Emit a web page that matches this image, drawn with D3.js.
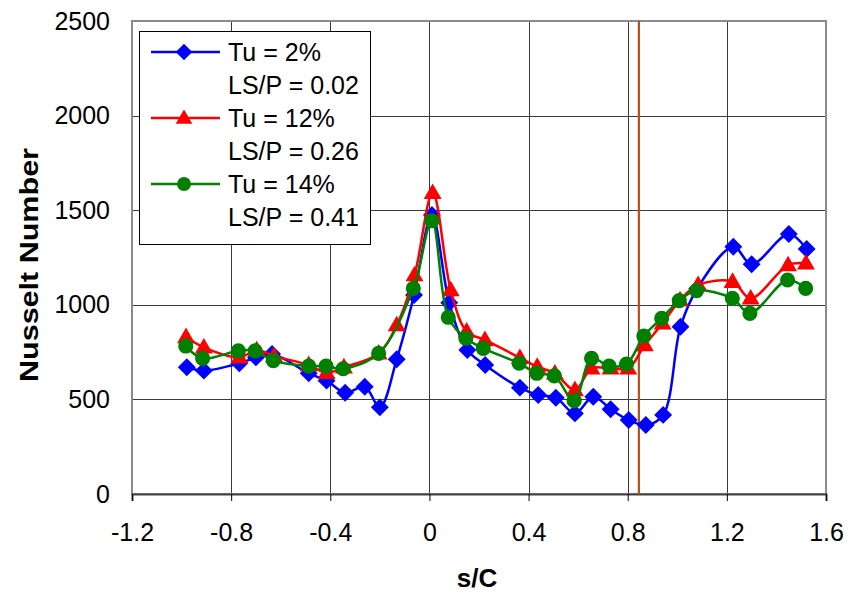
<html>
  <head>
    <script src="https://cdn.jsdelivr.net/npm/d3@7/dist/d3.min.js" charset="UTF-8"></script>
    <style>
      body { margin: 0; background: #fff; }
      text { font-family: "Liberation Sans", Arial, sans-serif; fill: #000; }
    </style>
  </head>
  <body>
    <svg width="849" height="594"></svg>

    <script type="text/javascript">
      // Tu = 2%, LS/P = 0.02
      var sc_tu2 = [-0.979, -0.910, -0.767, -0.700, -0.635, -0.487, -0.415, -0.340, -0.261, -0.200, -0.132, -0.062,
                    0.010, 0.080, 0.153, 0.225, 0.365, 0.439, 0.510, 0.587, 0.661, 0.731, 0.804, 0.873, 0.943,
                    1.013, 1.080, 1.226, 1.300, 1.450, 1.522];
      var nu_tu2 = [670, 652, 691, 722, 740, 638, 599, 535, 567, 458, 712, 1052,
                    1475, 1011, 761, 682, 562, 523, 509, 426, 514, 448, 391, 365, 418,
                    884, 1085, 1307, 1214, 1374, 1295];

      // Tu = 12%, LS/P = 0.26
      var sc_tu12 = [-0.982, -0.910, -0.767, -0.697, -0.627, -0.487, -0.415, -0.345, -0.205, -0.132, -0.060,
                     0.013, 0.086, 0.150, 0.224, 0.365, 0.435, 0.506, 0.587, 0.654, 0.731, 0.802, 0.869, 0.941,
                     1.011, 1.084, 1.223, 1.296, 1.447, 1.519];
      var nu_tu12 = [830, 775, 722, 761, 729, 682, 641, 670, 743, 893, 1157,
                     1592, 1078, 860, 814, 720, 673, 638, 550, 664, 664, 664, 787, 902,
                     1025, 1105, 1122, 1034, 1210, 1219];

      // Tu = 14%, LS/P = 0.41
      var sc_tu14 = [-0.983, -0.915, -0.771, -0.703, -0.630, -0.487, -0.417, -0.348, -0.205, -0.065,
                     0.010, 0.076, 0.147, 0.217, 0.362, 0.433, 0.504, 0.584, 0.654, 0.725, 0.795, 0.865, 0.937,
                     1.008, 1.078, 1.222, 1.293, 1.445, 1.518];
      var nu_tu14 = [782, 717, 757, 757, 705, 676, 676, 662, 743, 1087,
                     1444, 934, 823, 770, 691, 638, 624, 493, 717, 676, 687, 835, 929,
                     1022, 1075, 1034, 955, 1131, 1087];

      var xTicks = [-1.2, -0.8, -0.4, 0, 0.4, 0.8, 1.2, 1.6];
      var yTicks = [0, 500, 1000, 1500, 2000, 2500];
      var markerLine = 0.845;   // vertical reference line

      var legendLabels = [["Tu = 2%", "LS/P = 0.02"], ["Tu = 12%", "LS/P = 0.26"], ["Tu = 14%", "LS/P = 0.41"]];

      // diamonds are squares turned 45 degrees
      var series = [
        { xs: sc_tu2, ys: nu_tu2, color: "#0000ff", shape: d3.symbolSquare, size: 160, rot: 45, dy: 0 },
        { xs: sc_tu12, ys: nu_tu12, color: "#ff0000", shape: d3.symbolTriangle, size: 140, rot: 0, dy: 1 },
        { xs: sc_tu14, ys: nu_tu14, color: "#008000", shape: d3.symbolCircle, size: 180, rot: 0, dy: 0 }
      ];

      var svg = d3.select("svg");
      var plotL = 132, plotR = 826, plotT = 21, plotB = 494;

      var x = d3.scaleLinear().domain([-1.2, 1.6]).range([plotL, plotR]);
      var y = d3.scaleLinear().domain([0, 2500]).range([plotB, plotT]);

      // gridlines
      svg.append("g").selectAll("line").data(yTicks.slice(1, -1)).enter().append("line")
        .attr("x1", plotL).attr("x2", plotR)
        .attr("y1", function(d) { return Math.round(y(d)) + 0.5; }).attr("y2", function(d) { return Math.round(y(d)) + 0.5; })
        .style("stroke", "#3a3a3a").style("stroke-width", 1);
      svg.append("g").selectAll("line").data(xTicks.slice(1, -1)).enter().append("line")
        .attr("y1", plotT).attr("y2", plotB)
        .attr("x1", function(d) { return Math.round(x(d)) + 0.5; }).attr("x2", function(d) { return Math.round(x(d)) + 0.5; })
        .style("stroke", "#3a3a3a").style("stroke-width", 1);

      // plot border
      svg.append("rect")
        .attr("x", plotL).attr("y", plotT).attr("width", plotR - plotL).attr("height", plotB - plotT)
        .style("fill", "none").style("stroke", "#8c8c8c").style("stroke-width", 2);

      // x axis at 0
      var xAxis = d3.axisBottom(x).tickValues(xTicks).tickSize(7).tickPadding(22)
        .tickFormat(function(d) { return String(+d.toFixed(1)); });
      var gx = svg.append("g").attr("transform", "translate(0," + plotB + ")").call(xAxis);
      gx.select(".domain").style("stroke", "#444").style("stroke-width", 2);
      gx.selectAll(".tick line").style("stroke", "#000");
      gx.selectAll("text").style("font-size", "25px")
        .style("font-family", "'Liberation Sans', Arial, sans-serif");

      var yAxis = d3.axisLeft(y).tickValues(yTicks).tickSize(0).tickPadding(22)
        .tickFormat(function(d) { return String(d); });
      var gy = svg.append("g").attr("transform", "translate(" + plotL + ",0)").call(yAxis);
      gy.select(".domain").remove();
      gy.selectAll("text").style("font-size", "25px")
        .style("font-family", "'Liberation Sans', Arial, sans-serif");

      // vertical reference line
      svg.append("line")
        .attr("x1", x(markerLine)).attr("x2", x(markerLine))
        .attr("y1", plotT).attr("y2", plotB)
        .style("stroke", "#b5501e").style("stroke-width", 2.2);

      // series
      var line = d3.line().curve(d3.curveCatmullRom.alpha(0.5))
        .x(function(d) { return x(d[0]); })
        .y(function(d) { return y(d[1]); });

      series.forEach(function(s) {
        var pts = s.xs.map(function(v, i) { return [v, s.ys[i]]; });
        svg.append("path").datum(pts).attr("d", line)
          .style("fill", "none").style("stroke", s.color).style("stroke-width", 2.5);
        var sym = d3.symbol().type(s.shape).size(s.size);
        svg.append("g").selectAll("path").data(pts).enter().append("path")
          .attr("d", sym)
          .attr("transform", function(d) {
            return "translate(" + x(d[0]) + "," + (y(d[1]) + s.dy) + ") rotate(" + s.rot + ")";
          })
          .style("fill", s.color);
      });

      // legend
      var lg = svg.append("g");
      lg.append("rect").attr("x", 139.5).attr("y", 31.5).attr("width", 231).attr("height", 213)
        .style("fill", "#fff").style("stroke", "#000").style("stroke-width", 1);
      var rowY = [52, 118, 184];
      series.forEach(function(s, i) {
        lg.append("line").attr("x1", 151).attr("x2", 220).attr("y1", rowY[i]).attr("y2", rowY[i])
          .style("stroke", s.color).style("stroke-width", 2.5);
        lg.append("path").attr("d", d3.symbol().type(s.shape).size(s.size * 0.85))
          .attr("transform", "translate(184," + (rowY[i] + s.dy) + ") rotate(" + s.rot + ")")
          .style("fill", s.color);
        lg.append("text").attr("x", 228).attr("y", rowY[i]).attr("dy", "0.36em")
          .style("font-size", "25px").text(legendLabels[i][0]);
        lg.append("text").attr("x", 228).attr("y", rowY[i] + 33).attr("dy", "0.36em")
          .style("font-size", "25px").text(legendLabels[i][1]);
      });

      // axis titles
      svg.append("text").attr("x", 477).attr("y", 587).attr("text-anchor", "middle")
        .style("font-size", "26px").style("font-weight", "bold").text("s/C");
      svg.append("text").attr("transform", "translate(38,265) rotate(-90)").attr("text-anchor", "middle")
        .attr("textLength", 234).attr("lengthAdjust", "spacingAndGlyphs")
        .style("font-size", "26px").style("font-weight", "bold").text("Nusselt Number");
    </script>
  </body>
</html>
